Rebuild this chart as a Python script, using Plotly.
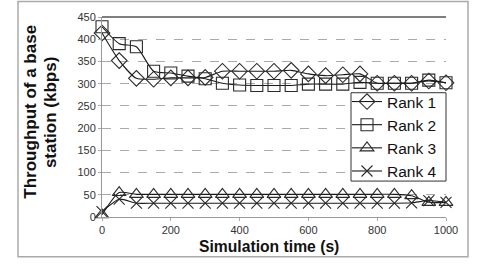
import plotly.graph_objects as go

time_s = [0, 50, 100, 150, 200, 250, 300, 350, 400, 450, 500,
          550, 600, 650, 700, 750, 800, 850, 900, 950, 1000]
rank1 = [414, 352, 312, 310, 313, 313, 314, 328, 328, 328, 328,
         330, 322, 318, 320, 322, 301, 301, 301, 306, 302]
rank2 = [428, 390, 383, 328, 324, 317, 311, 301, 297, 296, 296,
         296, 299, 299, 299, 303, 301, 301, 301, 308, 302]
rank3 = [5, 55, 51, 51, 51, 51, 51, 51, 51, 51, 51,
         51, 51, 51, 51, 51, 51, 51, 48, 33, 33]
rank4 = [12, 40, 31, 31, 31, 31, 31, 31, 31, 31, 31,
         31, 31, 31, 31, 31, 31, 31, 32, 37, 33]

series = [("Rank 1", rank1, "diamond-open"),
          ("Rank 2", rank2, "square-open"),
          ("Rank 3", rank3, "triangle-up-open"),
          ("Rank 4", rank4, "x-thin-open")]
x_ticks = [0, 200, 400, 600, 800, 1000]
y_ticks = [0, 50, 100, 150, 200, 250, 300, 350, 400, 450]

W, H = 485, 268
L, R, T, B = 102, 446, 11, 217   # plot area in pixels
pw, ph = R - L, B - T

fig = go.Figure()
for name, vals, sym in series:
    fig.add_trace(go.Scatter(
        x=time_s, y=vals, name=name, mode="lines+markers",
        line=dict(color="#1a1a1a", width=1.1, shape="spline", smoothing=0.6),
        marker=dict(symbol=sym, size=12 if sym != "x-thin-open" else 11,
                    color="#2a2a2a", line=dict(width=1.1, color="#2a2a2a")),
        cliponaxis=False,
    ))

def px_x(p):
    return (p - L) / pw

def px_y(p):
    return (B - p) / ph

FONT = "Liberation Sans, Arial, sans-serif"

fig.update_layout(
    width=W, height=H,
    margin=dict(l=L, r=W - R, t=T, b=H - B),
    paper_bgcolor="white", plot_bgcolor="white",
    font=dict(family=FONT, color="#333333"),
    showlegend=True,
    legend=dict(x=px_x(347), y=px_y(81), xanchor="left", yanchor="top",
                bgcolor="rgba(0,0,0,0)", borderwidth=0,
                font=dict(size=15.5, color="#111111"),
                tracegroupgap=0, itemwidth=30),
    xaxis=dict(range=[0, 1000], tickvals=x_ticks, showgrid=False,
               zeroline=False, showline=True, linecolor="#999999", linewidth=1,
               ticks="outside", ticklen=3, tickcolor="#aaaaaa",
               tickfont=dict(size=11, color="#333333"), fixedrange=True),
    yaxis=dict(range=[0, 450], tickvals=y_ticks, showgrid=True,
               gridcolor="#aaaaaa", griddash="dash", gridwidth=1,
               zeroline=False, showline=True, linecolor="#999999", linewidth=1,
               ticks="outside", ticklen=3, tickcolor="#aaaaaa",
               tickfont=dict(size=11, color="#333333"), fixedrange=True),
)

# top border of plot area at 450
fig.add_shape(type="line", xref="paper", yref="paper", x0=0, x1=1, y0=1, y1=1,
              line=dict(color="#555555", width=1.5))
# outer chart frame
fig.add_shape(type="rect", xref="paper", yref="paper",
              x0=px_x(18), x1=px_x(468), y0=px_y(258), y1=px_y(-5),
              line=dict(color="#aaaaaa", width=1.5), layer="below")
# legend box
fig.add_shape(type="rect", xref="paper", yref="paper",
              x0=px_x(351), x1=px_x(446), y0=px_y(180), y1=px_y(89),
              line=dict(color="#333333", width=1), fillcolor="white",
              layer="above")

fig.add_annotation(text="<b>Simulation time (s)</b>", xref="paper", yref="paper",
                   x=px_x(269), y=px_y(247), showarrow=False,
                   font=dict(size=15.7, color="#111111", family=FONT),
                   xanchor="center", yanchor="middle")
fig.add_annotation(text="<b>Throughput of a base</b>",
                   xref="paper", yref="paper", x=px_x(31), y=px_y(108.5),
                   showarrow=False, textangle=-90,
                   font=dict(size=17, color="#111111", family=FONT),
                   xanchor="center", yanchor="middle")
fig.add_annotation(text="<b>station (kbps)</b>",
                   xref="paper", yref="paper", x=px_x(50), y=px_y(110),
                   showarrow=False, textangle=-90,
                   font=dict(size=17, color="#111111", family=FONT),
                   xanchor="center", yanchor="middle")

fig.write_html("out.html")
